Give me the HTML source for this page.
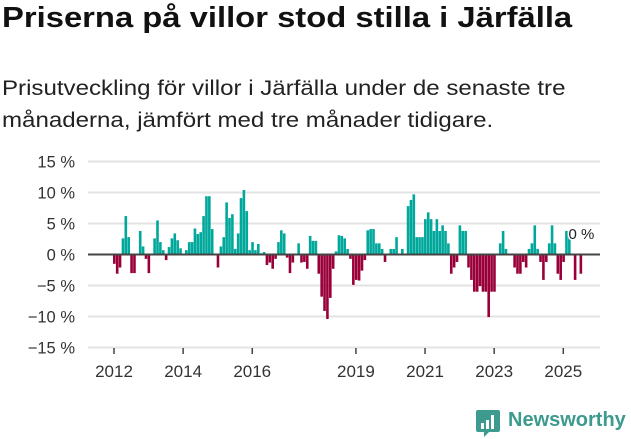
<!DOCTYPE html>
<html><head><meta charset="utf-8"><style>
body{margin:0;width:631px;height:439px;background:#fff;font-family:"Liberation Sans",sans-serif;overflow:hidden;position:relative;color:#111}
h1{position:absolute;left:2px;top:2px;margin:0;font-size:28.5px;font-weight:bold;transform-origin:0 0;transform:scaleX(1.15);white-space:nowrap}
p.sub{position:absolute;left:2px;top:72px;margin:0;font-size:21.5px;line-height:32px;color:#222;transform-origin:0 0;transform:scaleX(1.12);white-space:nowrap}
svg{position:absolute;left:0;top:0}
</style></head><body>
<h1>Priserna på villor stod stilla i Järfälla</h1>
<p class="sub">Prisutveckling för villor i Järfälla under de senaste tre<br>månaderna, jämfört med tre månader tidigare.</p>
<svg id="chart" width="631" height="439"></svg>
<div style="position:absolute;left:476px;top:409px;height:28px;">
<svg width="26" height="30" style="position:absolute;left:0;top:0"><path d="M2 1h20a2 2 0 0 1 2 2v18a2 2 0 0 1-2 2H13l-5 5v-5H2a2 2 0 0 1-2-2V3a2 2 0 0 1 2-2z" fill="#3d9a8e"/><rect x="5" y="14" width="3" height="6" fill="#fff"/><rect x="10" y="11" width="3" height="9" fill="#fff"/><rect x="15" y="6" width="3" height="14" fill="#fff"/></svg>
<span style="position:absolute;left:32px;top:0px;font-size:20px;color:#3d9a8e;font-weight:bold;white-space:nowrap">Newsworthy</span>
</div>
<script>
const yTicks=[15,10,5,0,-5,-10,-15];
const yTickLabels=["15 %","10 %","5 %","0 %","−5 %","−10 %","−15 %"];
const xTickYears=[2012,2014,2016,2019,2021,2023,2025];
const startYear=2012;
const values=[-1.5,-3.1,-2.1,2.6,6.2,2.8,-3,-3,0,3.8,1.3,-0.7,-3,0,2.6,5.5,2.0,0.7,-0.9,1.2,2.6,3.4,2.3,1.0,0,0.7,2.0,2.0,4.2,3.3,3.6,6.2,9.4,9.4,4.1,0,-2.1,1.3,2.8,8.4,5.9,6.5,0.9,3.4,9.1,10.4,7.0,0.7,2.0,0.7,1.7,0.2,0.4,
-1.7,-1.3,-2.3,-0.7,
2.0,3.9,3.4,-0.5,-3.0,-1.3,0,1.8,-1.3,-1.2,-2.3,3.0,2.2,2.2,-3.1,-6.8,-9.1,-10.4,-7.0,-2.3,0.5,3.1,3.0,2.6,0.9,-0.7,-4.9,-4.1,-4.2,-2.6,-0.9,
3.9,4.1,4.1,1.8,1.8,0.9,-1.2,0,
0.9,0.9,2.8,0,0.9,0,7.8,8.8,9.7,2.8,2.8,2.8,5.7,6.8,
5.7,3.8,5.7,3.8,4.7,3.8,1.8,-3.1,-2.1,-1.2,4.7,3.8,3.8,-2.1,-4.1,-6.0,-6.0,-5.1,-6.0,-6.0,-10.1,-6.0,-6.0,0,1.8,3.8,0.9,0,0,-2.1,-3.1,-3.1,-1.2,-2.1,0.9,1.8,4.7,0.9,-1.2,-4.1,-1.2,1.8,4.7,1.8,-3.1,-4.1,-1.2,3.8,2.8,0,-4.1,0,-3.1];
const lastLabel="0 %";

const svg=document.getElementById('chart');
const NS='http://www.w3.org/2000/svg';
const y=v=>254.5-v*6.2;
const x=m=>113+m*2.88; // months since Jan 2012
const gx0=88,gx1=600;
function mk(t,a){const e=document.createElementNS(NS,t);for(const k in a)e.setAttribute(k,a[k]);svg.appendChild(e);return e;}
yTicks.forEach((v,i)=>{
  if(v!==0){const g=mk('line',{x1:gx0,x2:gx1,y1:y(v),y2:y(v),stroke:'#e3e3e3','stroke-width':2});
  
  }
  const t=mk('text',{x:75,y:y(v)+6,'text-anchor':'end','font-size':16.5,fill:'#333','font-family':'Liberation Sans, sans-serif'});
  t.textContent=yTickLabels[i];
  
  
});
values.forEach((v,i)=>{
  if(v===0)return;
  const r=mk('rect',{x:x(i),width:2.6,y:v>0?y(v):y(0),height:Math.abs(y(v)-y(0)),fill:v>0?'#00a79b':'#990039'});
  
  
});
const z=mk('line',{x1:gx0,x2:gx1,y1:y(0),y2:y(0),stroke:'#444','stroke-width':2});


xTickYears.forEach(yr=>{
  const xx=x((yr-startYear)*12)+1;
  const tk=mk('line',{x1:xx,x2:xx,y1:348,y2:354,stroke:'#444','stroke-width':1.5});
  
  
  const t=mk('text',{x:xx,y:377,'text-anchor':'middle','font-size':17,fill:'#333','font-family':'Liberation Sans, sans-serif'});
  t.textContent=yr;
  
  
});
const ll=mk('text',{x:x(values.length-1)-11,y:239,'font-size':15,fill:'#222','font-family':'Liberation Sans, sans-serif',stroke:'#fff','stroke-width':3,'paint-order':'stroke'});
ll.textContent=lastLabel;


</script>
</body></html>
